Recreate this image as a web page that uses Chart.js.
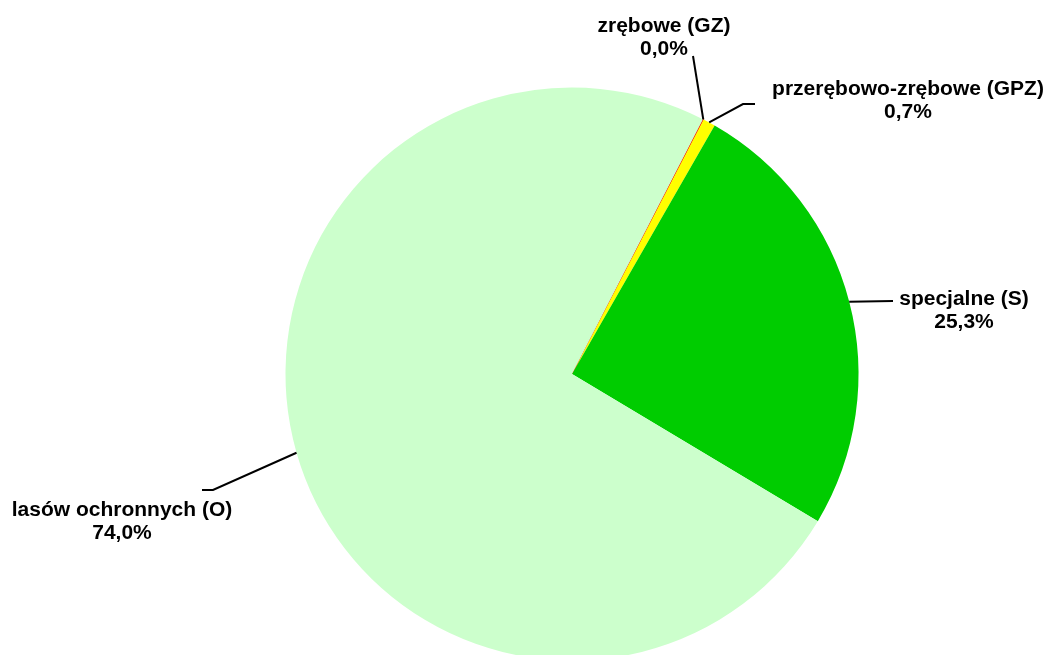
<!DOCTYPE html>
<html>
<head>
<meta charset="utf-8">
<script src="https://cdn.jsdelivr.net/npm/chart.js@4/dist/chart.umd.min.js"></script>
<style>
    html, body { margin: 0; padding: 0; background: #fff; overflow: hidden; }
    #wrap { width: 1049px; height: 700px; }
</style>
</head>
<body>
<div id="wrap"><canvas id="forestChart" width="1049" height="700"></canvas></div>
<script>
// udział powierzchni wg rodzaju rębni
const categories = ['zrębowe (GZ)', 'przerębowo-zrębowe (GPZ)', 'specjalne (S)', 'lasów ochronnych (O)'];
const shares = [0.04, 0.7, 25.3, 74.0];
const sliceColors = ['#ff0000', '#ffff00', '#00cc00', '#ccffcc'];

// where each label sits and how its leader line bends
const labelSpots = [
    { x: 664, y: 32, path: [[693, 56]] },
    { x: 908, y: 95, path: [[743, 104], [755, 104]] },
    { x: 964, y: 305, path: [[893, 301]] },
    { x: 122, y: 516, path: [[213, 490], [202, 490]] }
];

const fmtPct = v => v.toFixed(1).replace('.', ',') + '%';

const pieLabels = {
    id: 'pieLabels',
    afterDatasetsDraw(chart) {
        const ctx = chart.ctx;
        const arcs = chart.getDatasetMeta(0).data;
        ctx.save();
        arcs.forEach((arc, i) => {
            const spot = labelSpots[i];
            const mid = (arc.startAngle + arc.endAngle) / 2;
            const sx = arc.x + Math.cos(mid) * arc.outerRadius;
            const sy = arc.y + Math.sin(mid) * arc.outerRadius;

            ctx.strokeStyle = '#000';
            ctx.lineWidth = 2;
            ctx.beginPath();
            ctx.moveTo(sx, sy);
            spot.path.forEach(p => ctx.lineTo(p[0], p[1]));
            ctx.stroke();

            // text is drawn slightly widened, like the original Arial rendering
            ctx.save();
            ctx.translate(spot.x, spot.y);
            ctx.scale(1.05, 1);
            ctx.fillStyle = '#000';
            ctx.font = 'bold 20px "Liberation Sans", Arial, sans-serif';
            ctx.textAlign = 'center';
            ctx.textBaseline = 'alphabetic';
            ctx.fillText(categories[i], 0, 0);
            ctx.fillText(fmtPct(shares[i]), 0, 23);
            ctx.restore();
        });
        ctx.restore();
    }
};

new Chart(document.getElementById('forestChart'), {
    type: 'pie',
    data: {
        labels: categories,
        datasets: [{
            data: shares,
            backgroundColor: sliceColors,
            borderColor: sliceColors,
            borderWidth: [1, 0, 0, 0]
        }]
    },
    options: {
        responsive: false,
        animation: false,
        events: [],
        rotation: 27.2,
        layout: { padding: { left: 285, right: 190, top: 87, bottom: 39 } },
        plugins: {
            legend: { display: false },
            tooltip: { enabled: false }
        }
    },
    plugins: [pieLabels]
});
</script>
</body>
</html>
